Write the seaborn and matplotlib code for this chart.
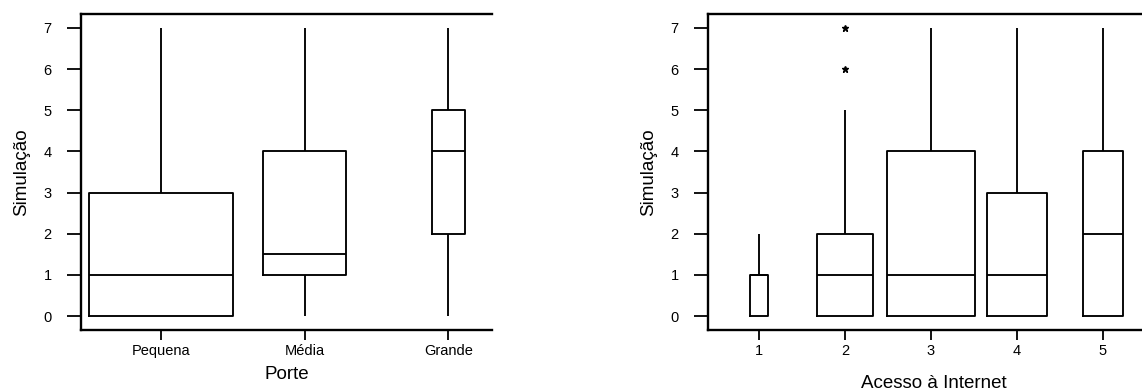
import matplotlib
matplotlib.use("Agg")
import matplotlib.pyplot as plt
import seaborn as sns

# Simulação por porte da empresa
porte = ["Pequena", "Média", "Grande"]
sim_pequena = [0, 0, 0, 1, 1, 3, 3, 7]
sim_media = [0, 1, 1, 1, 2, 4, 4, 7]
sim_grande = [0, 2, 2, 4, 4, 5, 5, 7]

# Simulação por nível de acesso à internet
acesso = ["1", "2", "3", "4", "5"]
sim_acesso1 = [0, 0, 0, 1, 1, 1, 1, 2]
sim_acesso2 = [0, 0, 0, 0, 1, 1, 1, 2, 2, 2, 5, 6, 7]
sim_acesso3 = [0, 0, 0, 1, 1, 2, 4, 5, 7]
sim_acesso4 = [0, 0, 0, 1, 1, 2, 3, 4, 7]
sim_acesso5 = [0, 0, 0, 1, 2, 3, 4, 6, 7]

# box widths (minitab style, varying per group)
larg_porte = [1.0, 0.58, 0.23]
larg_acesso = [0.21, 0.65, 1.02, 0.70, 0.47]

sns.set_style("ticks")
plt.rcParams["font.family"] = ["Liberation Sans", "DejaVu Sans"]
plt.rcParams["text.color"] = "black"
plt.rcParams["axes.labelcolor"] = "black"

fig = plt.figure(figsize=(11.42, 3.91), dpi=100)
ax1 = fig.add_axes([81 / 1142, 61 / 391, 411 / 1142, 316 / 391])
ax2 = fig.add_axes([708 / 1142, 61 / 391, 452 / 1142, 316 / 391])


def draw_boxes(ax, cats, groups, widths):
    for cat, vals, w in zip(cats, groups, widths):
        sns.boxplot(x=[cat] * len(vals), y=vals, order=cats, width=w, ax=ax,
                    color="black", fill=False, showcaps=False, linewidth=1.35,
                    flierprops=dict(marker="*", markersize=5,
                                    markerfacecolor="black", markeredgecolor="black"))


def style_axes(ax, xlabel, xlim, xlabelpad):
    ax.set_xlim(*xlim)
    ax.set_ylim(-0.34, 7.34)
    ax.set_yticks(range(8))
    ax.set_xlabel(xlabel, fontsize=13.5, labelpad=xlabelpad)
    ax.set_ylabel("Simulação", fontsize=13.5, labelpad=10)
    ax.spines["right"].set_visible(False)
    for s in ["left", "bottom", "top"]:
        ax.spines[s].set_linewidth(1.7)
        ax.spines[s].set_color("black")
    ax.tick_params(axis="y", length=10, width=1.3, pad=11, labelsize=10.5, colors="black")
    ax.tick_params(axis="x", length=7, width=1.3, pad=3, labelsize=10.5, colors="black")


draw_boxes(ax1, porte, [sim_pequena, sim_media, sim_grande], larg_porte)
draw_boxes(ax2, acesso, [sim_acesso1, sim_acesso2, sim_acesso3, sim_acesso4, sim_acesso5],
           larg_acesso)

style_axes(ax1, "Porte", (-0.557, 2.303), 6)
style_axes(ax2, "Acesso à Internet", (-0.593, 4.663), 12)

fig.savefig("out.png", dpi=100)
